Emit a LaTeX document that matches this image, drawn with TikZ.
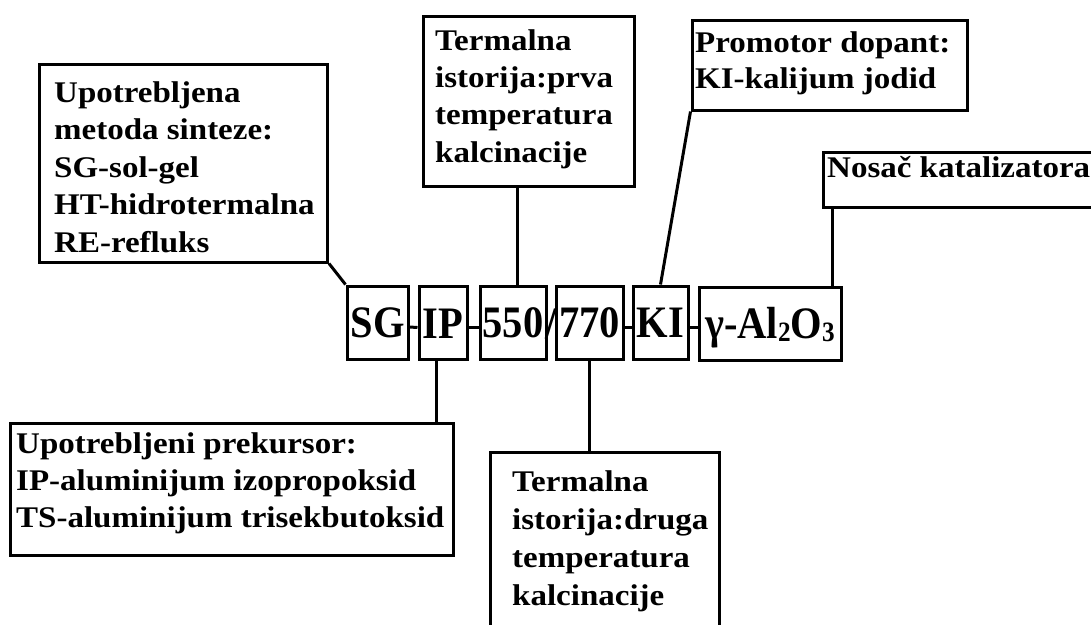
\documentclass[tikz,border=0pt]{standalone}
\usepackage{fontspec}
\setmainfont{Liberation Serif}
\newfontfamily\labfont[FakeStretch=1.1]{Liberation Serif}
\newfontfamily\mainfont[FakeStretch=0.9]{Liberation Serif}
\begin{document}
\begin{tikzpicture}[x=1pt,y=-1pt,
  frame/.style={draw=black, line width=3pt, rectangle, inner sep=0pt, fill=white},
  lab/.style={anchor=base west, align=left, inner sep=0pt, font=\labfont\bfseries\fontsize{30}{37.5}\selectfont},
  code/.style={frame, font=\mainfont\bfseries\fontsize{45}{45}\selectfont, text height=30pt, text depth=0pt, minimum height=73pt},
  conn/.style={draw=black, line width=3pt}
]
\useasboundingbox (0,0) rectangle (1091,624);
\clip (0,0) rectangle (1091,624);
\fill[white] (0,0) rectangle (1091,624);

% annotation boxes
\node[frame, minimum width=288pt, minimum height=198pt] (b1) at (183.5,163) {};
\node[frame, minimum width=211pt, minimum height=170pt] (b2) at (528.5,101) {};
\node[frame, minimum width=275pt, minimum height=90pt] (b3) at (829.5,65) {};
\node[frame, minimum width=280pt, minimum height=55pt] (b4) at (963,179.5) {};
\node[frame, minimum width=443pt, minimum height=132pt] (b5) at (231.5,489) {};
\node[frame, minimum width=229pt, minimum height=190pt] (b6) at (604.5,547) {};

% labels (anchored at the baseline of their last line)
\node[lab] (t1) at (54,252) {Upotrebljena\\metoda sinteze:\\SG-sol-gel\\HT-hidrotermalna\\RE-refluks};
\node[lab, font=\labfont\bfseries\fontsize{30}{37.3}\selectfont] (t2) at (435,162) {Termalna\\istorija:prva\\temperatura\\kalcinacije};
\node[lab, font=\labfont\bfseries\fontsize{30}{36}\selectfont] (t3) at (695,88) {Promotor dopant:\\KI-kalijum jodid};
\node[lab] (t4) at (827,177) {Nosač katalizatora};
\node[lab, font=\labfont\bfseries\fontsize{30}{37}\selectfont] (t5) at (16,527) {Upotrebljeni prekursor:\\IP-aluminijum izopropoksid\\TS-aluminijum trisekbutoksid};
\node[lab, font=\labfont\bfseries\fontsize{30}{37.7}\selectfont] (t6) at (512,605) {Termalna\\istorija:druga\\temperatura\\kalcinacije};

% code boxes
\node[code, minimum width=61pt] (sg) at (377.5,322.5) {SG};
\node[code, minimum width=48pt] (ip) at (443,323) {IP};
\node[code, minimum width=66pt] (n550) at (513,322.5) {550};
\node[code, minimum width=67pt] (n770) at (589.5,322.5) {770};
\node[code, minimum width=55pt] (ki) at (660.5,322.5) {KI};
\node[code, minimum width=142pt] (al) at (770,323.5) {γ-Al\raisebox{-3pt}{\fontsize{28}{28}\selectfont 2}O\raisebox{-3pt}{\fontsize{28}{28}\selectfont 3}};
\node[font=\mainfont\bfseries\fontsize{45}{45}\selectfont, inner sep=0pt, anchor=base] (sl) at (551,338) {/};

% connectors between code boxes
\draw[conn] ([yshift=-4.5pt]sg.east) -- ([yshift=-4.5pt]ip.west);
\draw[conn] ([yshift=-4pt]ip.east) -- ([yshift=-4pt]ip.east -| n550.west);
\draw[conn] ([yshift=-4.5pt]n770.east) -- ([yshift=-4.5pt]ki.west);
\draw[conn] ([yshift=-4.5pt]ki.east) -- ([yshift=-4.5pt]ki.east -| al.west);

% connectors to annotations
\draw[conn] (b1.south east) -- (sg.north west);
\draw[conn] ([xshift=4pt]n550.north) -- ([xshift=4pt]n550.north |- b2.south);
\draw[conn] (b3.south west) -- (ki.north);
\draw[conn] ([xshift=-10pt]al.north east) -- ([xshift=-10pt]al.north east |- b4.south);
\draw[conn] ([xshift=-7pt]ip.south) -- ([xshift=-7pt]ip.south |- b5.north);
\draw[conn] (n770.south) -- (n770.south |- b6.north);
\end{tikzpicture}
\end{document}
